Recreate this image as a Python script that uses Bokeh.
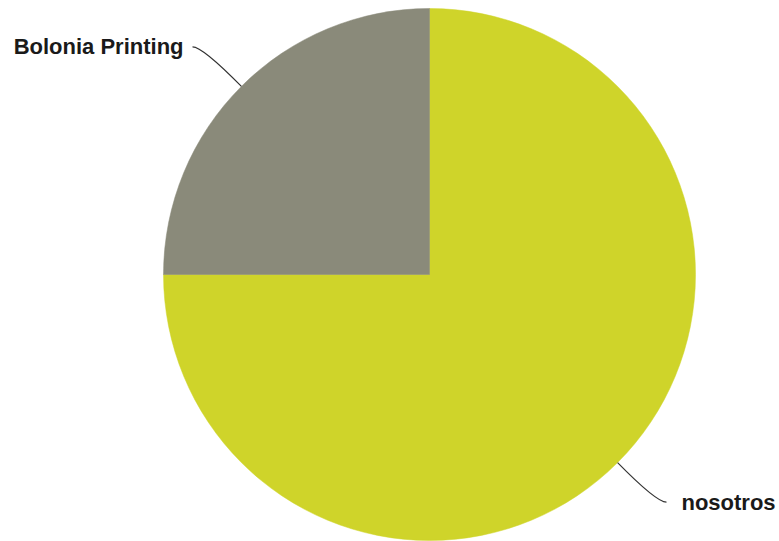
import math
from bokeh.plotting import figure
from bokeh.models import Range1d
from bokeh.core.properties import value
from bokeh.embed import file_html
from bokeh.resources import INLINE

labels = ["nosotros", "Bolonia Printing"]
values = [75, 25]
colors = ["#CFD42A", "#8A8A7A"]

W, H = 779, 541
p = figure(width=W, height=H, output_backend="svg", toolbar_location=None,
           x_range=Range1d(0, W), y_range=Range1d(0, H), min_border=0)
p.axis.visible = False
p.grid.visible = False
p.outline_line_color = None

cx, cy, r = 429, H - 274, 266
total = sum(values)
start = math.pi / 2
for lab, v, c in zip(labels, values, colors):
    sweep = 2 * math.pi * v / total
    end = start - sweep
    p.wedge(x=cx, y=cy, radius=r, start_angle=end, end_angle=start,
            fill_color=c, line_color=c, line_width=0.5)
    mid = (start + end) / 2
    ux, uy = math.cos(mid), math.sin(mid)
    x0, y0 = cx + r * ux, cy + r * uy
    xe, ye = cx + (r + 55) * ux, cy + (r + 56) * uy
    side = 1 if ux >= 0 else -1
    x1, y1 = xe + side * 10, ye
    p.quadratic(x0=x0, y0=y0, x1=x1, y1=y1, cx=xe, cy=ye,
                line_color="#333333", line_width=1.2)
    p.text(x=[x1 + side * (15 if side > 0 else 9)], y=[y1], text=[lab],
           text_align="left" if side > 0 else "right", text_baseline="middle",
           text_font=value("Liberation Sans"), text_font_style="bold",
           text_font_size="22px", text_color="#1a1a1a")
    start = end

open("out.html", "w").write(file_html(p, INLINE))
